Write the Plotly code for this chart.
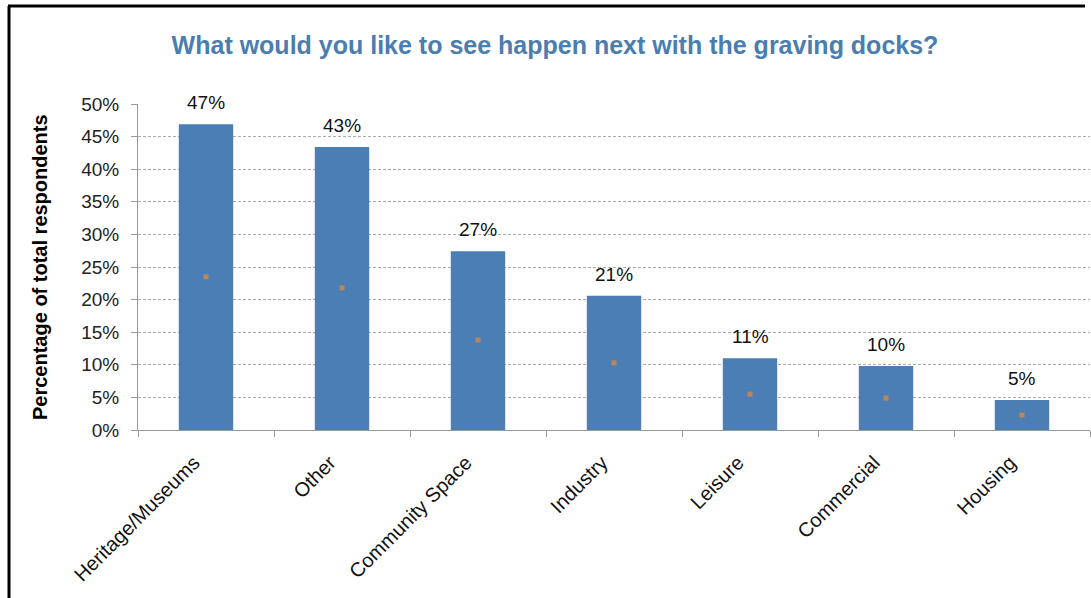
import plotly.graph_objects as go

categories = ["Heritage/Museums", "Other", "Community Space", "Industry",
              "Leisure", "Commercial", "Housing"]
share_pct = [46.9, 43.4, 27.4, 20.6, 11.0, 9.8, 4.6]
midpoint_pct = [23.5, 21.8, 13.8, 10.3, 5.5, 4.9, 2.3]
y_ticks = [0, 5, 10, 15, 20, 25, 30, 35, 40, 45, 50]

W, H = 1091, 598
L, R, T, B = 138, 1, 104, 168
plot_w = W - L - R
plot_h = H - T - B


def px_x(p):
    return (p - L) / plot_w


def px_y(p):
    return (H - B - p) / plot_h


FONT = "Liberation Sans, Arial, sans-serif"

fig = go.Figure()
fig.add_trace(go.Bar(
    x=categories, y=share_pct, width=0.4,
    marker=dict(color="#4a7eb5", line=dict(width=0)),
    showlegend=False,
))
fig.add_trace(go.Scatter(
    x=categories, y=midpoint_pct, mode="markers",
    marker=dict(symbol="square", size=5, color="#c5894f", opacity=0.9),
    showlegend=False,
))

# value labels above each bar
value_labels = [
    dict(x=c, y=v, xref="x", yref="y", text=f"{round(v)}%",
         showarrow=False, xanchor="center", yanchor="bottom", yshift=9,
         font=dict(family=FONT, size=19, color="#111"))
    for c, v in zip(categories, share_pct)
]

fig.update_layout(
    width=W, height=H,
    margin=dict(l=L, r=R, t=T, b=B),
    paper_bgcolor="white", plot_bgcolor="white",
    font=dict(family=FONT, size=19, color="#222"),
    bargap=0.6,
    title=dict(
        text="<b>What would you like to see happen next with the graving docks?</b>",
        x=555 / W, xanchor="center", y=1 - 45 / H, yanchor="middle",
        font=dict(family=FONT, size=25, color="#4a7db0"),
    ),
    xaxis=dict(
        type="category", tickangle=-45, tickson="boundaries",
        ticks="outside", ticklen=6, tickcolor="#999",
        showline=True, linecolor="#999", linewidth=1,
        showgrid=False, range=[-0.5, 6.5],
        ticklabelstandoff=12, ticklabelshift=-12,
        tickfont=dict(family=FONT, size=20, color="#111"),
    ),
    yaxis=dict(
        range=[0, 50], tickvals=y_ticks,
        ticktext=[f"{v}%" for v in y_ticks],
        ticks="outside", ticklen=6, tickcolor="#999",
        showline=True, linecolor="#999", linewidth=1,
        showgrid=True, gridcolor="#aaa", griddash="3px,2px", gridwidth=1,
        zeroline=False, ticklabelstandoff=8,
        tickfont=dict(family=FONT, size=19, color="#222"),
    ),
    annotations=value_labels + [dict(
        text="<b>Percentage of total respondents</b>",
        xref="paper", yref="paper", x=px_x(40), y=0.5,
        xanchor="center", yanchor="middle", textangle=-90, showarrow=False,
        font=dict(family=FONT, size=20, color="#000"),
    )],
    shapes=[
        dict(type="line", xref="paper", yref="paper",
             x0=px_x(8), x1=px_x(1085), y0=px_y(6), y1=px_y(6),
             line=dict(color="#000", width=3)),
        dict(type="line", xref="paper", yref="paper",
             x0=px_x(9), x1=px_x(9), y0=px_y(6), y1=px_y(620),
             line=dict(color="#000", width=3)),
    ],
)

fig.write_html("out.html")
